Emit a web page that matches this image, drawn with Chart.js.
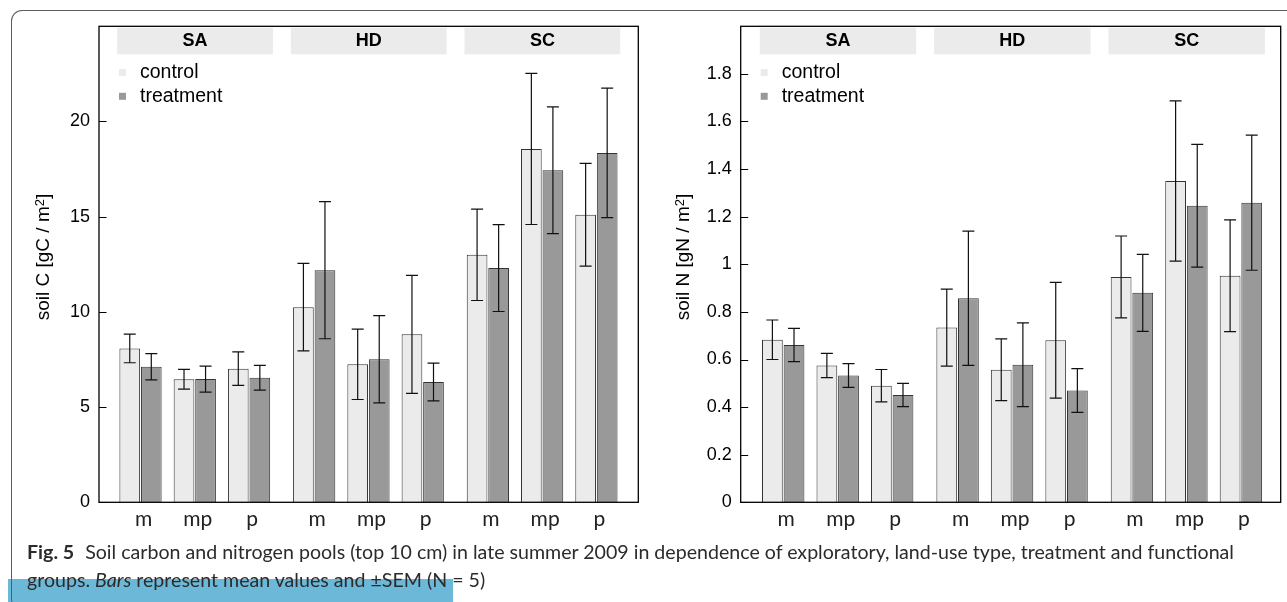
<!DOCTYPE html>
<html>
<head>
<meta charset="utf-8">
<script src="https://cdn.jsdelivr.net/npm/chart.js@4.4.0/dist/chart.umd.min.js"></script>
<style>
html, body { margin: 0; padding: 0; background: #fff; }
body { width: 1287px; height: 602px; overflow: hidden; position: relative; }
#blue { position: absolute; left: 8px; top: 579px; width: 445px; height: 23px; background: #6cb8d8; }
#frame { position: absolute; left: 10.5px; top: 9.5px; width: 1300px; height: 600px; box-sizing: border-box;
         border: 1.3px solid #5c5c5c; border-bottom: none; border-radius: 11px 0 0 11px; }
canvas { position: absolute; top: 0; }
#c1 { left: 0; }
#c2 { left: 640px; }
#cap { position: absolute; left: 27px; top: 538.4px; font-family: Lato, "Open Sans", sans-serif; font-size: 19.6px;
       line-height: 28px; color: #2b2b2b; white-space: nowrap; }
#cap b { font-weight: 700; margin-right: 6px; }
</style>
</head>
<body>
<div id="blue"></div>
<div id="frame"></div>
<canvas id="c1" width="645" height="540"></canvas>
<canvas id="c2" width="647" height="540"></canvas>
<div id="cap"><b>Fig. 5</b> Soil carbon and nitrogen pools (top 10 cm) in late summer 2009 in dependence of exploratory, land-use type, treatment and functional<br>groups. <i>Bars</i> represent mean values and ±SEM (N = 5)</div>
<script>
// ---------- data ----------
const facets = ['SA', 'HD', 'SC'];
const groups = ['m', 'mp', 'p'];
const categoryLabels = ['m', 'mp', 'p', 'm', 'mp', 'p', 'm', 'mp', 'p'];
const seriesNames = ['control', 'treatment'];

const carbonControl      = [8.08, 6.46, 7.02, 10.25, 7.25, 8.82, 13.0, 18.56, 15.1];
const carbonControlSEM   = [0.75, 0.52, 0.88, 2.30, 1.85, 3.10, 2.40, 3.97, 2.70];
const carbonTreatment    = [7.12, 6.47, 6.54, 12.19, 7.51, 6.32, 12.3, 17.44, 18.35];
const carbonTreatmentSEM = [0.69, 0.68, 0.65, 3.60, 2.29, 0.99, 2.28, 3.33, 3.40];

const nitrogenControl      = [0.683, 0.575, 0.490, 0.734, 0.557, 0.681, 0.947, 1.350, 0.952];
const nitrogenControlSEM   = [0.083, 0.051, 0.068, 0.162, 0.130, 0.243, 0.172, 0.337, 0.235];
const nitrogenTreatment    = [0.661, 0.533, 0.451, 0.857, 0.578, 0.470, 0.880, 1.246, 1.259];
const nitrogenTreatmentSEM = [0.070, 0.050, 0.049, 0.282, 0.176, 0.092, 0.162, 0.258, 0.284];

const carbonTicks = [0, 5, 10, 15, 20];
const carbonTickLabels = ['0', '5', '10', '15', '20'];
const nitrogenTicks = [0, 0.2, 0.4, 0.6, 0.8, 1.0, 1.2, 1.4, 1.6, 1.8];
const nitrogenTickLabels = ['0', '0.2', '0.4', '0.6', '0.8', '1', '1.2', '1.4', '1.6', '1.8'];

// axis titles: [text, superscript, closing]
const carbonTitle = ['soil C [gC / m', '2', ']'];
const nitrogenTitle = ['soil N [gN / m', '2', ']'];

// ---------- layout helpers ----------
const FACET_STEP = 3.2;           // 3 groups + gap between facets
const STRIP_FROM = -0.43, STRIP_TO = 2.44;
const xPos = categoryLabels.map((_, i) => Math.floor(i / groups.length) * FACET_STEP + (i % groups.length));

const colors = ['#ebebeb', '#999999'];
const SANS = '"Liberation Sans", Arial, sans-serif';

const decor = {
  id: 'decor',
  beforeDatasetsDraw(chart, args, opts) {
    const { ctx, chartArea: a, scales: { x } } = chart;
    ctx.save();
    facets.forEach((name, f) => {
      const x0 = x.getPixelForValue(f * FACET_STEP + STRIP_FROM);
      const x1 = x.getPixelForValue(f * FACET_STEP + STRIP_TO);
      ctx.fillStyle = '#ebebeb';
      ctx.fillRect(x0, a.top + 1.4, x1 - x0, 26.6);
      ctx.fillStyle = '#000';
      ctx.font = 'bold 18px ' + SANS;
      ctx.textAlign = 'center';
      ctx.textBaseline = 'middle';
      ctx.fillText(name, (x0 + x1) / 2, a.top + 14.6);
    });
    // legend
    seriesNames.forEach((n, k) => {
      const cy = a.top + 46.2 + k * 23.8;
      ctx.fillStyle = colors[k];
      ctx.fillRect(a.left + 20, cy - 3.5, 7, 7);
      ctx.fillStyle = '#000';
      ctx.font = '19.5px ' + SANS;
      ctx.textAlign = 'left';
      ctx.textBaseline = 'middle';
      ctx.fillText(n, a.left + 41, cy);
    });
    // y title (rotated, with superscript)
    const t = opts.title;
    ctx.translate(opts.titleX, opts.titleY);
    ctx.rotate(-Math.PI / 2);
    const fMain = '19px ' + SANS, fSup = '13px ' + SANS;
    ctx.font = fMain;
    const w1 = ctx.measureText(t[0]).width, w3 = ctx.measureText(t[2]).width;
    ctx.font = fSup;
    const w2 = ctx.measureText(t[1]).width;
    let px = -(w1 + w2 + w3) / 2;
    ctx.fillStyle = '#000';
    ctx.textAlign = 'left';
    ctx.textBaseline = 'alphabetic';
    ctx.font = fMain; ctx.fillText(t[0], px, 6.5); px += w1;
    ctx.font = fSup; ctx.fillText(t[1], px, 1.5); px += w2;
    ctx.font = fMain; ctx.fillText(t[2], px, 6.5);
    ctx.restore();
  },
  afterDatasetsDraw(chart, args, opts) {
    const { ctx, chartArea: a, scales: { x, y } } = chart;
    ctx.save();
    // error bars
    ctx.strokeStyle = '#111';
    ctx.lineWidth = 1.2;
    chart.data.datasets.forEach((ds, d) => {
      const meta = chart.getDatasetMeta(d);
      meta.data.forEach((el, i) => {
        const v = ds.data[i].y, e = ds.sem[i];
        const yt = y.getPixelForValue(v + e), yb = y.getPixelForValue(v - e);
        const cx = el.x;
        ctx.beginPath();
        ctx.moveTo(cx, yt); ctx.lineTo(cx, yb);
        ctx.moveTo(cx - 6, yt); ctx.lineTo(cx + 6, yt);
        ctx.moveTo(cx - 6, yb); ctx.lineTo(cx + 6, yb);
        ctx.stroke();
      });
    });
    // box
    ctx.strokeStyle = '#000';
    ctx.lineWidth = 1.3;
    ctx.strokeRect(a.left, a.top, a.right - a.left, a.bottom - a.top);
    // inward y ticks
    ctx.lineWidth = 1;
    y.ticks.forEach(tk => {
      const py = Math.round(y.getPixelForValue(tk.value)) + 0.5;
      ctx.beginPath();
      ctx.moveTo(a.left, py); ctx.lineTo(a.left + 7.5, py);
      ctx.stroke();
    });
    ctx.restore();
  }
};

function makeChart(id, ctrl, ctrlSem, trt, trtSem, yMax, ticks, tickLabels, title, xMin, xMax, axisWidth, padRight) {
  return new Chart(document.getElementById(id), {
    type: 'bar',
    data: {
      datasets: [
        { label: seriesNames[0], data: ctrl.map((v, i) => ({ x: xPos[i], y: v })), sem: ctrlSem,
          backgroundColor: colors[0], borderColor: '#333', borderWidth: 1 },
        { label: seriesNames[1], data: trt.map((v, i) => ({ x: xPos[i], y: v })), sem: trtSem,
          backgroundColor: colors[1], borderColor: '#333', borderWidth: 1 }
      ]
    },
    options: {
      responsive: false,
      animation: false,
      devicePixelRatio: 1,
      categoryPercentage: 0.794,
      barPercentage: 0.96,
      layout: { padding: { left: 0, top: 26.3, right: padRight, bottom: 0 } },
      plugins: {
        legend: { display: false }, tooltip: { enabled: false }, title: { display: false },
        decor: { title: title, titleX: 42, titleY: 257 }
      },
      scales: {
        x: {
          type: 'linear', min: xMin, max: xMax, offset: false,
          grid: { display: false, drawTicks: false }, border: { display: false },
          afterBuildTicks: (s) => { s.ticks = xPos.map(v => ({ value: v })); },
          afterFit: (s) => { s.height = 37.7; },
          ticks: {
            autoSkip: false, maxRotation: 0, padding: 4, labelOffset: 3, color: '#222',
            font: { family: 'Lato, "Open Sans", sans-serif', size: 21 },
            callback: (v, i) => categoryLabels[i]
          }
        },
        y: {
          min: 0, max: yMax,
          grid: { display: false, drawTicks: false }, border: { display: false },
          afterBuildTicks: (s) => { s.ticks = ticks.map(v => ({ value: v })); },
          afterFit: (s) => { s.width = axisWidth; },
          ticks: {
            padding: 9, color: '#000',
            font: { family: SANS, size: 18 },
            callback: (v, i) => tickLabels[i]
          },
          title: { display: false }
        }
      }
    },
    plugins: [decor]
  });
}

makeChart('c1', carbonControl, carbonControlSEM, carbonTreatment, carbonTreatmentSEM,
          25, carbonTicks, carbonTickLabels, carbonTitle, -0.765, 9.172, 99, 6.7);
makeChart('c2', nitrogenControl, nitrogenControlSEM, nitrogenTreatment, nitrogenTreatmentSEM,
          2.0, nitrogenTicks, nitrogenTickLabels, nitrogenTitle, -0.78, 9.13, 100.7, 6.3);
</script>
</body>
</html>
